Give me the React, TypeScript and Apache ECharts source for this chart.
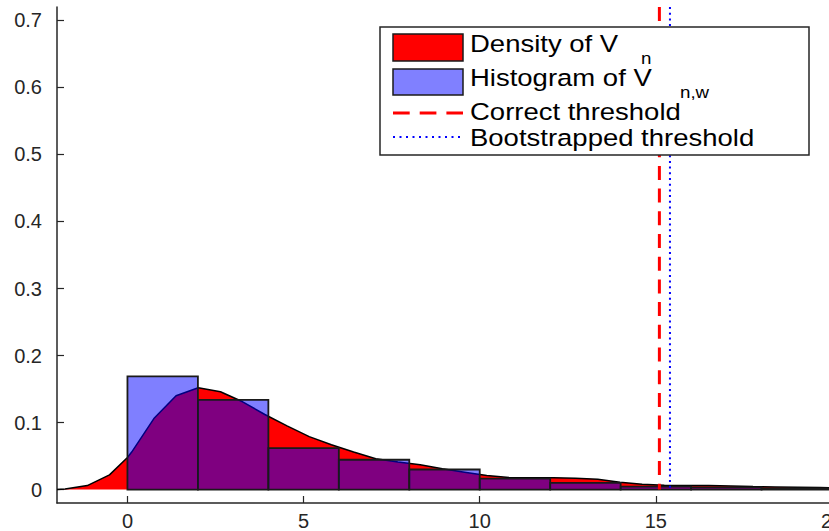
import React, { useEffect, useRef } from "react";
import * as echarts from "echarts";

// Density of V_n (x, y) pairs
const densityX = [-2, -1.77, -1.14, -0.51, 0, 0.12, 0.75, 1.38, 2.01, 2.64, 3.27, 3.9, 4.53, 5.16, 5.79, 6.42, 7.05, 7.68, 8.31, 8.94, 9.57, 10.2, 10.83, 11.46, 12.09, 12.72, 13.35, 13.98, 14.61, 15.24, 15.87, 16.5, 17.13, 17.76, 18.39, 19.02, 19.65, 20.28];
const densityY = [0, 0.001, 0.006, 0.022, 0.048, 0.056, 0.106, 0.14, 0.152, 0.146, 0.131, 0.112, 0.095, 0.079, 0.067, 0.056, 0.046, 0.041, 0.037, 0.031, 0.026, 0.021, 0.018, 0.0175, 0.0175, 0.017, 0.0155, 0.011, 0.008, 0.0065, 0.006, 0.006, 0.0055, 0.0045, 0.004, 0.0035, 0.003, 0.0025];

// Histogram of V_{n,w}
const binStarts = [0, 2, 4, 6, 8, 10, 12, 14, 16, 18];
const binWidth = 2;
const histHeights = [0.169, 0.134, 0.062, 0.0445, 0.03, 0.0165, 0.01, 0.0045, 0.0032, 0.0018];

// thresholds
const correctThreshold = 15.1;
const bootThreshold = 15.4;

const xTicks = [0, 5, 10, 15, 20];
const yTicks = [0, 0.1, 0.2, 0.3, 0.4, 0.5, 0.6, 0.7];

const FONT = "'Liberation Sans', Arial, Helvetica, sans-serif";
const AX = "#262626";

export default function App() {
  const ref = useRef<HTMLDivElement>(null);
  useEffect(() => {
    if (!ref.current) return;
    const chart = echarts.init(ref.current, null, { renderer: "svg" });
    const yMax = 0.72;
    const sx = 1.17;
    const legendFont = 23.5;
    const LZ = 100;
    const option: any = {
      animation: false,
      backgroundColor: "#ffffff",
      grid: { left: 57, top: 7, width: 775, height: 496, containLabel: false, outerBoundsMode: "none" },
      xAxis: {
        type: "value",
        min: -2,
        max: 20,
        axisLine: { onZero: false, lineStyle: { color: AX, width: 1.5 } },
        axisTick: { inside: true, length: 7, customValues: xTicks, lineStyle: { color: AX, width: 1.2 } },
        axisLabel: { customValues: xTicks, fontSize: 20, lineHeight: 20, color: AX, fontFamily: FONT, margin: 8, hideOverlap: false },
        splitLine: { show: false },
      },
      yAxis: {
        type: "value",
        min: -0.02,
        max: yMax,
        axisLine: { show: true, onZero: false, lineStyle: { color: AX, width: 1.5 } },
        axisTick: { show: true, inside: true, length: 7, customValues: yTicks, lineStyle: { color: AX, width: 1.2 } },
        axisLabel: {
          customValues: yTicks,
          fontSize: 20,
          color: AX,
          fontFamily: FONT,
          margin: 15,
          formatter: (v: number) => (Math.abs(v) < 1e-9 ? "0" : String(Math.round(v * 10) / 10)),
        },
        splitLine: { show: false },
      },
      series: [
        {
          name: "Density of V_n",
          type: "line",
          z: 1,
          showSymbol: false,
          symbol: "none",
          data: densityX.map((x, i) => [x, densityY[i]]),
          lineStyle: { color: "#000000", width: 1.5 },
          areaStyle: { color: "#ff0000", opacity: 1, origin: 0 },
          silent: true,
        },
        {
          name: "Histogram of V_n,w",
          type: "custom",
          z: 2,
          data: binStarts.map((s, i) => [s, s + binWidth, histHeights[i]]),
          encode: { x: [0, 1], y: 2 },
          renderItem: (params: any, api: any) => {
            const p0 = api.coord([api.value(0), api.value(2)]);
            const p1 = api.coord([api.value(1), 0]);
            return {
              type: "rect",
              shape: { x: p0[0], y: p0[1], width: p1[0] - p0[0], height: p1[1] - p0[1] },
              style: { fill: "rgba(0,0,255,0.5)", stroke: "#1a1a1a", lineWidth: 1.8 },
            };
          },
          silent: true,
        },
        {
          name: "Correct threshold",
          type: "line",
          z: 3,
          showSymbol: false,
          symbol: "none",
          data: [[correctThreshold, yMax], [correctThreshold, 0]],
          lineStyle: { color: "#ff0000", width: 3, type: [14, 8.7] },
          silent: true,
        },
        {
          name: "Bootstrapped threshold",
          type: "line",
          z: 3,
          showSymbol: false,
          symbol: "none",
          data: [[bootThreshold, yMax], [bootThreshold, 0]],
          lineStyle: { color: "#0000ff", width: 2, type: [2, 3.7] },
          silent: true,
        },
      ],
      graphic: [
        { type: "rect", z: LZ, shape: { x: 380, y: 27, width: 429, height: 128 }, style: { fill: "#ffffff", stroke: AX, lineWidth: 1.5 } },
        { type: "rect", z: LZ + 1, shape: { x: 393, y: 34, width: 70, height: 27 }, style: { fill: "#ff0000", stroke: "#1a1a1a", lineWidth: 1.5 } },
        { type: "rect", z: LZ + 1, shape: { x: 393, y: 69, width: 70, height: 26 }, style: { fill: "#8080ff", stroke: "#1a1a1a", lineWidth: 1.5 } },
        { type: "line", z: LZ + 1, shape: { x1: 393, y1: 113, x2: 463, y2: 113 }, style: { stroke: "#ff0000", lineWidth: 3, lineDash: [16.7, 10] } },
        { type: "line", z: LZ + 1, shape: { x1: 393, y1: 137, x2: 460, y2: 137 }, style: { stroke: "#0000ff", lineWidth: 2, lineDash: [2, 4.5] } },
        { type: "text", z: LZ + 1, x: 470, y: 44, scaleX: sx, style: { text: "Density of V", fontSize: legendFont, fontFamily: FONT, fill: "#000", verticalAlign: "middle" } },
        { type: "text", z: LZ + 1, x: 641, y: 58, scaleX: sx, style: { text: "n", fontSize: 16, fontFamily: FONT, fill: "#000", verticalAlign: "middle" } },
        { type: "text", z: LZ + 1, x: 470, y: 78, scaleX: sx, style: { text: "Histogram of V", fontSize: legendFont, fontFamily: FONT, fill: "#000", verticalAlign: "middle" } },
        { type: "text", z: LZ + 1, x: 680, y: 92, scaleX: sx, style: { text: "n,w", fontSize: 16, fontFamily: FONT, fill: "#000", verticalAlign: "middle" } },
        { type: "text", z: LZ + 1, x: 470, y: 112, scaleX: sx, style: { text: "Correct threshold", fontSize: legendFont, fontFamily: FONT, fill: "#000", verticalAlign: "middle" } },
        { type: "text", z: LZ + 1, x: 470, y: 138, scaleX: sx, style: { text: "Bootstrapped threshold", fontSize: legendFont, fontFamily: FONT, fill: "#000", verticalAlign: "middle" } },
      ],
    };
    chart.setOption(option);
    return () => chart.dispose();
  }, []);
  return (
    <div
      ref={ref}
      style={{ position: "fixed", left: 0, top: 0, width: 829, height: 531, background: "#fff", overflow: "hidden" }}
    />
  );
}
